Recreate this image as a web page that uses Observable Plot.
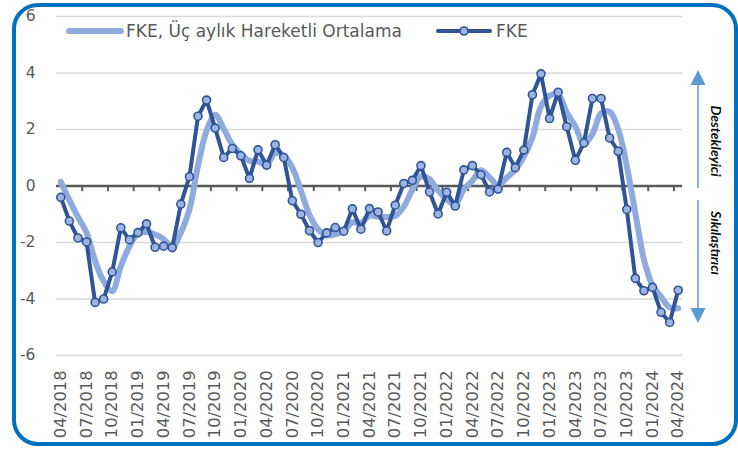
<!DOCTYPE html>
<html>
<head>
<meta charset="utf-8">
<script src="https://cdn.jsdelivr.net/npm/d3@7"></script>
<script src="https://cdn.jsdelivr.net/npm/@observablehq/plot@0.6"></script>
<style>
  html, body { margin: 0; padding: 0; background: #ffffff; }
  #wrap { position: relative; width: 738px; height: 449px; overflow: hidden; font-family: "DejaVu Sans", sans-serif; }
  #wrap > svg.overlay { position: absolute; left: 0; top: 0; pointer-events: none; }
  #chart { position: absolute; left: 0; top: 0; }
</style>
</head>
<body>
<div id="wrap"><div id="chart"></div></div>
<script>
// Tick labels (every third month, 04/2018 .. 04/2024)
const tickLabels = ["04/2018","07/2018","10/2018","01/2019","04/2019","07/2019","10/2019","01/2020","04/2020","07/2020","10/2020","01/2021","04/2021","07/2021","10/2021","01/2022","04/2022","07/2022","10/2022","01/2023","04/2023","07/2023","10/2023","01/2024","04/2024"];

// FKE monthly values (04/2018 .. 04/2024)
const fke = [-0.40,-1.24,-1.84,-1.98,-4.12,-4.00,-3.04,-1.48,-1.90,-1.65,-1.34,-2.17,-2.13,-2.18,-0.64,0.33,2.47,3.04,2.05,1.01,1.33,1.07,0.27,1.28,0.74,1.46,1.01,-0.52,-1.00,-1.58,-2.00,-1.66,-1.47,-1.60,-0.81,-1.53,-0.80,-0.92,-1.59,-0.68,0.09,0.20,0.72,-0.21,-0.99,-0.22,-0.71,0.57,0.72,0.40,-0.21,-0.11,1.19,0.65,1.27,3.23,3.97,2.39,3.32,2.10,0.91,1.52,3.10,3.10,1.70,1.23,-0.83,-3.27,-3.71,-3.59,-4.47,-4.83,-3.69];

// FKE, three-month moving average
const fkeMA = [0.15,-0.50,-1.10,-1.65,-2.65,-3.37,-3.72,-2.84,-2.14,-1.68,-1.63,-1.72,-1.88,-2.16,-1.65,-0.83,0.72,1.95,2.52,2.03,1.46,1.14,0.89,0.87,0.76,1.16,1.07,0.65,-0.17,-1.03,-1.53,-1.75,-1.71,-1.58,-1.29,-1.31,-1.05,-1.08,-1.10,-1.06,-0.73,-0.13,0.34,0.24,-0.16,-0.47,-0.64,-0.12,0.19,0.56,0.30,0.03,0.29,0.58,1.04,1.72,2.82,3.20,3.23,2.60,2.11,1.51,1.84,2.57,2.63,2.01,0.70,-0.96,-2.60,-3.52,-3.92,-4.30,-4.33];

const yTicks = [-6, -4, -2, 0, 2, 4, 6];
const seriesNames = ["FKE, Üç aylık Hareketli Ortalama", "FKE"];
const sideLabels = ["Destekleyici", "Sıkılaştırıcı"];

const fkeData = fke.map((v, i) => ({i, v}));
const maData = fkeMA.map((v, i) => ({i, v}));
const labelData = tickLabels.map((t, k) => ({i: k * 3, t}));
const tickPos = tickLabels.slice(0, -1).map((t, k) => k * 3 + 2.5);

const W = 738, H = 449;
const plot = Plot.plot({
  width: W, height: H,
  marginLeft: 56, marginRight: 56, marginTop: 16, marginBottom: 94,
  x: {domain: [-0.5, 72.5], axis: null},
  y: {domain: [-6, 6], axis: null},
  style: {fontFamily: "'DejaVu Sans', sans-serif", background: "transparent", overflow: "visible"},
  marks: [
    Plot.ruleY(yTicks.filter(d => d !== 0), {stroke: "#d9d9d9", strokeWidth: 1.5}),
    Plot.ruleY([0], {stroke: "#595959", strokeWidth: 2.5}),
    Plot.ruleX(tickPos, {y1: 0, y2: -0.2, stroke: "#595959", strokeWidth: 2}),
    Plot.line(maData, {x: "i", y: "v", stroke: "#8FAADC", strokeWidth: 6, curve: "catmull-rom", strokeLinecap: "round", strokeLinejoin: "round"}),
    Plot.line(fkeData, {x: "i", y: "v", stroke: "#2F5597", strokeWidth: 4, strokeLinejoin: "round"}),
    Plot.dot(fkeData, {x: "i", y: "v", r: 4, fill: "#9DB4E2", stroke: "#2F5597", strokeWidth: 1.6}),
    Plot.axisY(yTicks, {tickSize: 0, tickPadding: 21, fontSize: 15.5, fill: "#595959", tickFormat: d => String(d), label: null}),
    Plot.text(labelData, {x: "i", text: "t", frameAnchor: "bottom", rotate: -90, textAnchor: "end", lineAnchor: "middle", dy: 15, fontSize: 16.3, fill: "#595959"})
  ]
});
document.getElementById("chart").appendChild(plot);

// Decorations: legend, side arrows, rounded border
const ov = d3.select("#wrap").append("svg").attr("class", "overlay").attr("width", W).attr("height", H);
const lg = ov.append("g").attr("font-family", "'DejaVu Sans', sans-serif");
lg.append("line").attr("x1", 69).attr("x2", 121).attr("y1", 31).attr("y2", 31)
  .attr("stroke", "#8FAADC").attr("stroke-width", 6).attr("stroke-linecap", "round");
lg.append("text").attr("x", 126).attr("y", 31).attr("dy", "0.36em").attr("font-size", 17).attr("fill", "#595959").text(seriesNames[0]);
lg.append("line").attr("x1", 438).attr("x2", 490).attr("y1", 31).attr("y2", 31)
  .attr("stroke", "#2F5597").attr("stroke-width", 4).attr("stroke-linecap", "round");
lg.append("circle").attr("cx", 464).attr("cy", 31).attr("r", 4).attr("fill", "#9DB4E2").attr("stroke", "#2F5597").attr("stroke-width", 1.6);
lg.append("text").attr("x", 496).attr("y", 31).attr("dy", "0.36em").attr("font-size", 17).attr("fill", "#595959").text(seriesNames[1]);

const ac = "#5B9BD5";
const ax = 698;
ov.append("line").attr("x1", ax).attr("x2", ax).attr("y1", 84).attr("y2", 188).attr("stroke", ac).attr("stroke-width", 1.5);
ov.append("line").attr("x1", ax).attr("x2", ax).attr("y1", 200).attr("y2", 309).attr("stroke", ac).attr("stroke-width", 1.5);
ov.append("path").attr("d", `M${ax},70 L${ax + 7.5},85 L${ax - 7.5},85 Z`).attr("fill", ac);
ov.append("path").attr("d", `M${ax},323 L${ax + 7.5},308 L${ax - 7.5},308 Z`).attr("fill", ac);
ov.append("text").attr("transform", "translate(716,141) rotate(90)").attr("text-anchor", "middle").attr("dy", "0.35em")
  .attr("font-family", "Lato, sans-serif")
  .attr("font-size", 14).attr("font-weight", "bold").attr("font-style", "italic").attr("fill", "#111").text(sideLabels[0]);
ov.append("text").attr("transform", "translate(716,243) rotate(90)").attr("text-anchor", "middle").attr("dy", "0.35em")
  .attr("font-family", "Lato, sans-serif")
  .attr("font-size", 14).attr("font-weight", "bold").attr("font-style", "italic").attr("fill", "#111").text(sideLabels[1]);

ov.append("rect").attr("x", 14).attr("y", 5).attr("width", 722).attr("height", 439).attr("rx", 24)
  .attr("fill", "none").attr("stroke", "#0070C0").attr("stroke-width", 4);
</script>
</body>
</html>
